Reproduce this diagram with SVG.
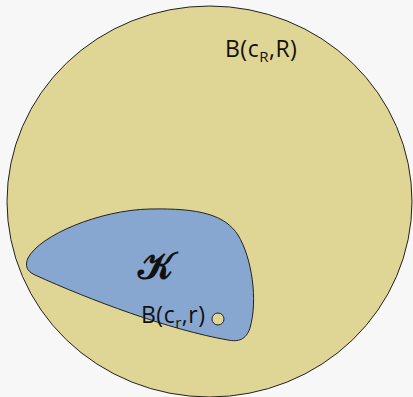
<svg xmlns="http://www.w3.org/2000/svg" width="413" height="397" viewBox="0 0 413 397">
<style>
.lbl{font-family:"Open Sans","Liberation Sans",sans-serif;font-size:23px;fill:#111;letter-spacing:0.5px}
.sub{font-size:15px}
.ol{stroke:#222;stroke-width:1}
</style>
<rect width="413" height="397" fill="#f7f7f7"/>
<g id="outer">
<ellipse class="ol" cx="209.5" cy="201.5" rx="202.5" ry="195.5" fill="#dfd595"/>
<text class="lbl" x="225" y="57">B(c<tspan class="sub" dy="5">R</tspan><tspan dy="-5">,R)</tspan></text>
</g>
<g id="K">
<path class="ol" fill="#87a7d0" d="M 28,258 C 40,235 100,210 150,209 C 200,208 225,215 238,235 C 252,258 258,300 250,328 C 246,340 238,342 228,340 C 170,330 90,300 35,275 C 26,271 25,265 28,258 Z"/>
<text x="138" y="279" font-family="DejaVu Serif, serif" font-size="38" font-weight="bold" fill="#111">𝒦</text>
</g>
<g id="small">
<circle class="ol" cx="218" cy="319" r="6" fill="#dfd595"/>
<text class="lbl" x="141" y="323">B(c<tspan class="sub" dy="5">r</tspan><tspan dy="-5">,r)</tspan></text>
</g>
<g id="connectors"/>
</svg>
